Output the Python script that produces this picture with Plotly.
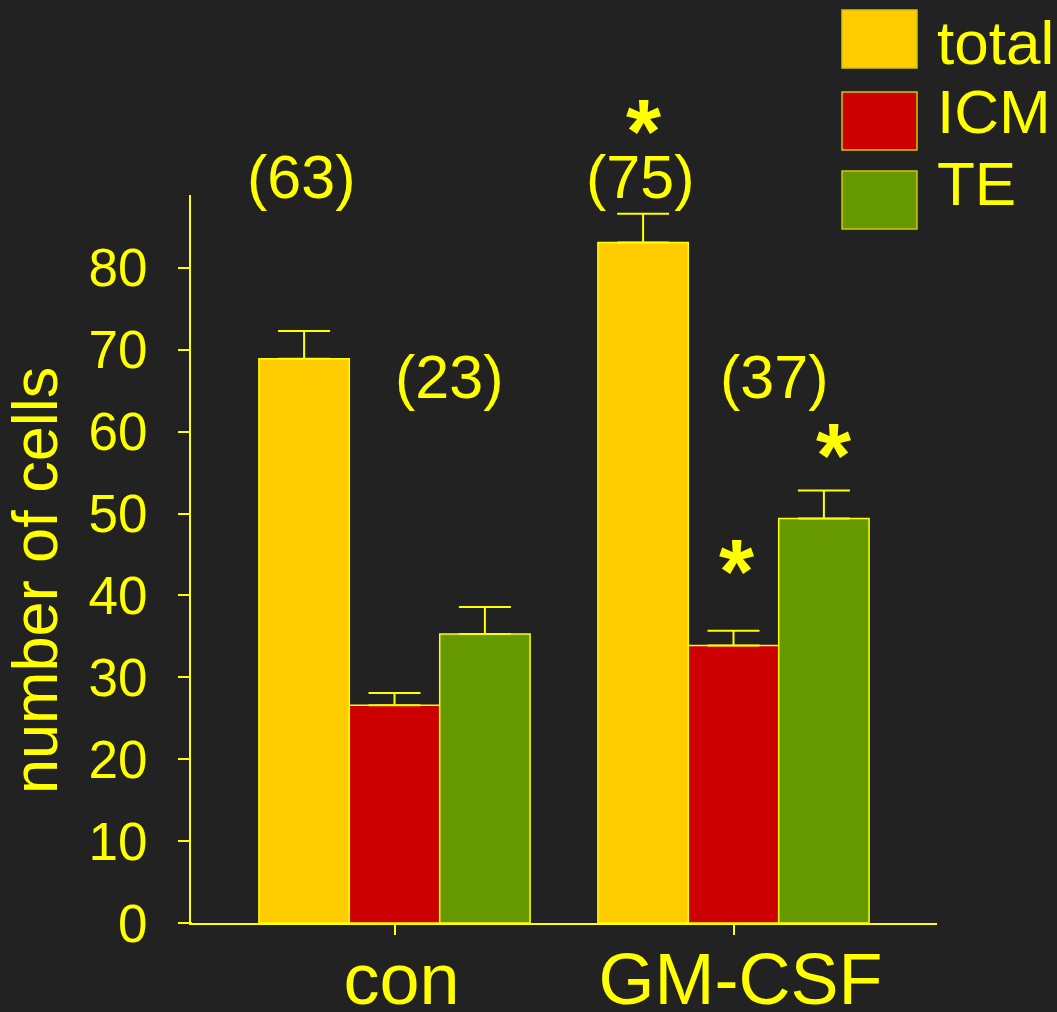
import plotly.graph_objects as go

# Blastocyst cell counts (mean + SEM) for control and GM-CSF treated embryos
groups = ["con", "GM-CSF"]
group_pos = [0, 1]
series = ["total", "ICM", "TE"]

total_mean = [68.9, 83.1]
icm_mean = [26.6, 33.9]
te_mean = [35.3, 49.4]

total_sem = [3.4, 3.5]
icm_sem = [1.5, 1.8]
te_sem = [3.3, 3.4]

colors = ["#FFCC00", "#CC0000", "#669900"]

# Embryo counts per group
n_total = ["(63)", "(75)"]
n_icm_te = ["(23)", "(37)"]

YEL = "#FFFF00"
BG = "#222222"
FONT = "Liberation Sans, Arial, sans-serif"

W, H = 1057, 1012
ML, MR, MT, MB = 191, 120, 195, 89
PW, PH = W - ML - MR, H - MT - MB

def px_x(p):
    return (p - ML) / PW

def px_y(p):
    return (H - MB - p) / PH

fig = go.Figure()

means = [total_mean, icm_mean, te_mean]
sems = [total_sem, icm_sem, te_sem]
for name, m, s, c in zip(series, means, sems, colors):
    fig.add_trace(go.Bar(
        x=group_pos, y=m, name=name,
        marker=dict(color=c, line=dict(color=YEL, width=1.5)),
        error_y=dict(type="data", array=s, arrayminus=[0] * len(s),
                     symmetric=False, color=YEL, thickness=2, width=26),
        showlegend=False,
    ))

bar_w = 0.8 / 3
annos = []
# n labels above total bars
for g, lab in zip(group_pos, n_total):
    annos.append(dict(x=g - bar_w - 0.01, y=px_y(177), text=lab, showarrow=False,
                      font=dict(size=61, color=YEL, family=FONT),
                      xref="x", yref="paper", yanchor="middle"))
# n labels for ICM/TE
for g, dx, lab in zip(group_pos, [0.16, 0.12], n_icm_te):
    annos.append(dict(x=g + dx, y=66.7, text=lab, showarrow=False,
                      font=dict(size=61, color=YEL, family=FONT),
                      xref="x", yref="y", yanchor="middle"))
# significance asterisks for GM-CSF vs control
stars = [(1 - bar_w, px_y(120), "paper"), (1.01, 44.3, "y"), (1 + bar_w + 0.027, 58.5, "y")]
for sx, sy, ref in stars:
    annos.append(dict(x=sx, y=sy, text="<b>*</b>", showarrow=False,
                      font=dict(size=90, color=YEL, family=FONT),
                      xref="x", yref=ref, yanchor="middle", yshift=-12))

# y axis title
annos.append(dict(x=px_x(35), y=px_y(581), xref="paper", yref="paper",
                  xanchor="center", yanchor="middle",
                  text="number of cells", textangle=-90, showarrow=False,
                  font=dict(size=63, color=YEL, family=FONT)))

shapes = []
# extend x axis line to the left under the y ticks
shapes.append(dict(type="line", xref="paper", yref="paper",
                   x0=px_x(180), x1=px_x(192), y0=px_y(923), y1=px_y(923),
                   line=dict(color=YEL, width=2)))

# legend boxes and labels
box_top = [10, 92, 171]
label_mid = [42, 112, 183]
for name, c, top, mid in zip(series, colors, box_top, label_mid):
    shapes.append(dict(type="rect", xref="paper", yref="paper",
                       x0=px_x(842), x1=px_x(917), y0=px_y(top), y1=px_y(top + 58),
                       fillcolor=c, line=dict(color="#D4C400", width=1.5)))
    annos.append(dict(x=px_x(935), y=px_y(mid), xref="paper", yref="paper",
                      text=name, showarrow=False, xanchor="left", yanchor="middle",
                      font=dict(size=62, color=YEL, family=FONT)))

fig.update_layout(
    width=W, height=H,
    margin=dict(l=ML, r=MR, t=MT, b=MB, pad=0, autoexpand=False),
    paper_bgcolor=BG, plot_bgcolor=BG,
    barmode="group", bargap=0.2, bargroupgap=0,
    annotations=annos, shapes=shapes,
    font=dict(family=FONT, color=YEL),
)
fig.update_xaxes(
    range=[-0.6003, 1.6003], tickvals=group_pos, ticktext=groups, automargin=False,
    showgrid=False, zeroline=False, showline=True, linecolor=YEL, linewidth=2,
    ticks="outside", ticklen=10, tickwidth=2, tickcolor=YEL,
    tickfont=dict(size=72, color=YEL, family=FONT), ticklabelstandoff=-17,
    ticklabelshift=7,
)
fig.update_yaxes(
    range=[0, 88.9], tickvals=list(range(0, 90, 10)), automargin=False,
    showgrid=False, zeroline=False, showline=True, linecolor=YEL, linewidth=2,
    ticks="outside", ticklen=11, tickwidth=2, tickcolor=YEL,
    tickfont=dict(size=53, color=YEL, family=FONT), ticklabelstandoff=20,
)

fig.write_html("out.html")
